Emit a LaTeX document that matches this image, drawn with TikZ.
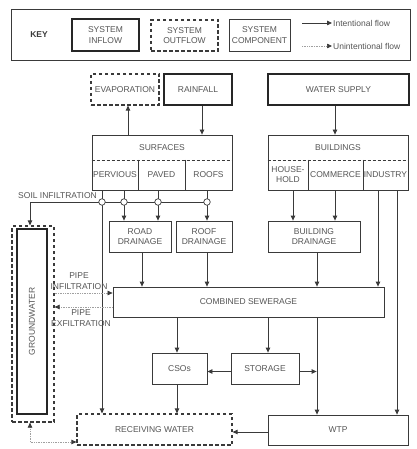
\documentclass[tikz,border=0pt]{standalone}
\usepackage{fontspec}
\setmainfont{Liberation Sans}
\usetikzlibrary{arrows.meta}
\definecolor{ln}{HTML}{3A3A3A}
\definecolor{tx}{HTML}{555555}
\definecolor{ul}{HTML}{A0A0A0}
\newcommand\diagfs{\fontsize{8.5}{10.8}\selectfont}
\begin{document}
\begin{tikzpicture}[x=1pt,y=-1pt,
  every node/.style={font=\diagfs, text=tx},
  comp/.style={draw=ln, line width=0.8pt, inner sep=0pt, align=center},
  inflow/.style={comp, draw=black!85, line width=1.7pt},
  outflow/.style={comp, line width=1.2pt, dash pattern=on 3.5pt off 2.5pt},
  tip/.style={-{Triangle[length=5pt,width=4.5pt,color=ln]}},
  flow/.style={draw=ln, line width=0.8pt, tip},
  plain/.style={draw=ln, line width=0.8pt},
  uflow/.style={draw=ul, line width=0.7pt, densely dotted, tip},
  junc/.style={circle, draw=ln, fill=white, line width=0.7pt, minimum size=6.5pt, inner sep=0pt}
]
\useasboundingbox (0,0) rectangle (416,449);

% ---------------- key ----------------
\node[comp, minimum width=399pt, minimum height=51pt] (keyframe) at (210.5,34.5) {};
\node[font=\diagfs\bfseries, text=ln] (keylabel) at (39,34.5) {KEY};
\node[inflow, minimum width=67pt, minimum height=32pt] (kin) at (105.5,35) {SYSTEM\\INFLOW};
\node[outflow, minimum width=67pt, minimum height=31pt] (kout) at (184.5,35.5) {SYSTEM\\OUTFLOW};
\node[comp, minimum width=61pt, minimum height=32pt] (kcomp) at (259.5,35) {SYSTEM\\COMPONENT};
\coordinate (ka1) at (302,23); \coordinate (ka2) at (332,23);
\coordinate (kb1) at (302,46); \coordinate (kb2) at (332,46);
\draw[flow] (ka1) -- (ka2);
\draw[uflow] (kb1) -- (kb2);
\node[anchor=west, inner sep=1pt] (kt1) at (ka2) {Intentional flow};
\node[anchor=west, inner sep=1pt] (kt2) at (kb2) {Unintentional flow};

% ---------------- top row ----------------
\node[outflow, minimum width=68pt, minimum height=31pt] (evap) at (125,89.5) {EVAPORATION};
\node[inflow, minimum width=68pt, minimum height=31pt] (rain) at (198,89.5) {RAINFALL};
\node[inflow, minimum width=141pt, minimum height=31pt] (supply) at (338.5,89.5) {WATER SUPPLY};

% ---------------- surfaces / buildings ----------------
\node[comp, minimum width=140pt, minimum height=55pt] (surf) at (162,162.5) {};
\node (surft) at (162,148) {SURFACES};
\draw[draw=ln, line width=0.6pt, densely dashed] (surf.west |- 0,160) -- (surf.east |- 0,160);
\draw[plain] (138,160) -- (138,0 |- surf.south);
\draw[plain] (185,160) -- (185,0 |- surf.south);
\node (perv) at (115,175) {PERVIOUS};
\node (paved) at (161.5,175) {PAVED};
\node (roofs) at (208.5,175) {ROOFS};

\node[comp, minimum width=140pt, minimum height=55pt] (bldg) at (338,162.5) {};
\node (bldgt) at (338,148) {BUILDINGS};
\draw[draw=ln, line width=0.6pt, densely dashed] (bldg.west |- 0,160) -- (bldg.east |- 0,160);
\draw[plain] (308,160) -- (308,0 |- bldg.south);
\draw[plain] (363,160) -- (363,0 |- bldg.south);
\node[align=center] (house) at (288,174.5) {HOUSE-\\HOLD};
\node (comm) at (335.5,175) {COMMERCE};
\node (ind) at (385.5,175) {INDUSTRY};

% ---------------- drainage ----------------
\node[comp, minimum width=62pt, minimum height=31pt] (road) at (140,236.5) {ROAD\\DRAINAGE};
\node[comp, minimum width=56pt, minimum height=31pt] (roof) at (204,236.5) {ROOF\\DRAINAGE};
\node[comp, minimum width=92pt, minimum height=31pt] (bdrain) at (314,236.5) {BUILDING\\DRAINAGE};

\node[comp, minimum width=271pt, minimum height=30pt] (sewer) at (248.5,302) {COMBINED SEWERAGE};

% ---------------- groundwater ----------------
\node[outflow, minimum width=42pt, minimum height=196pt] (gwout) at (33,324) {};
\node[inflow, minimum width=30pt, minimum height=185pt] (gw) at (32,321.5) {};
\node[rotate=90] (gwt) at (32,321.5) {GROUNDWATER};

% ---------------- bottom ----------------
\node[comp, minimum width=55pt, minimum height=31pt] (csos) at (179.5,368.5) {CSOs};
\node[comp, minimum width=68pt, minimum height=31pt] (storage) at (265,368.5) {STORAGE};
\node[outflow, minimum width=155pt, minimum height=31pt] (recv) at (154.5,429.5) {RECEIVING WATER};
\node[comp, minimum width=140pt, minimum height=30pt] (wtp) at (338,430) {WTP};

% ---------------- connectors ----------------
\draw[flow] (128,0 |- surf.north) -- (128,0 |- evap.south);
\draw[flow] (202,0 |- rain.south) -- (202,0 |- surf.north);
\draw[flow] (335,0 |- supply.south) -- (335,0 |- bldg.north);

\coordinate (j1) at (102,202);
\coordinate (j2) at (124,202);
\coordinate (j3) at (158,202);
\coordinate (j4) at (207,202);
\draw[flow] (102,0 |- surf.south) -- (102,0 |- recv.north);
\draw[flow] (124,0 |- surf.south) -- (124,0 |- road.north);
\draw[flow] (158,0 |- surf.south) -- (158,0 |- road.north);
\draw[flow] (207,0 |- surf.south) -- (207,0 |- roof.north);
\draw[plain] (j1) -- (j4);
\draw[flow] (j1) -| (30,0 |- gwout.north);
\node[junc] (c1) at (j1) {};
\node[junc] (c2) at (j2) {};
\node[junc] (c3) at (j3) {};
\node[junc] (c4) at (j4) {};
\node[anchor=base east, inner sep=1pt] (soil) at (98,198.5) {SOIL INFILTRATION};

\draw[flow] (293,0 |- bldg.south) -- (293,0 |- bdrain.north);
\draw[flow] (335,0 |- bldg.south) -- (335,0 |- bdrain.north);
\draw[flow] (378,0 |- bldg.south) -- (378,0 |- sewer.north);
\draw[flow] (397,0 |- bldg.south) -- (397,0 |- wtp.north);

\draw[flow] (142,0 |- road.south) -- (142,0 |- sewer.north);
\draw[flow] (207,0 |- roof.south) -- (207,0 |- sewer.north);
\draw[flow] (317,0 |- bdrain.south) -- (317,0 |- sewer.north);

\draw[uflow] (gwout.east |- 0,293) -- (sewer.west |- 0,293);
\draw[uflow] (sewer.west |- 0,307) -- (gwout.east |- 0,307);
\node[align=center] (pinf) at (79,281) {PIPE\\INFILTRATION};
\node[align=center] (pexf) at (81,318.5) {PIPE\\EXFILTRATION};

\draw[flow] (177,0 |- sewer.south) -- (177,0 |- csos.north);
\draw[flow] (268,0 |- sewer.south) -- (268,0 |- storage.north);
\draw[flow] (317,0 |- sewer.south) -- (317,0 |- wtp.north);
\draw[flow] (storage.west |- 0,371.5) -- (csos.east |- 0,371.5);
\draw[flow] (storage.east |- 0,371.5) -- (316.6,0 |- storage.east |- 0,371.5);
\draw[flow] (177,0 |- csos.south) -- (177,0 |- recv.north);
\draw[flow] (wtp.west |- 0,432) -- (recv.east |- 0,432);

\draw[draw=ul, line width=0.7pt, densely dotted,
  {Triangle[length=5pt,width=4.5pt,color=ln]}-{Triangle[length=5pt,width=4.5pt,color=ln]}]
  (30,0 |- gwout.south) |- (recv.west |- 0,442);
\end{tikzpicture}
\end{document}
